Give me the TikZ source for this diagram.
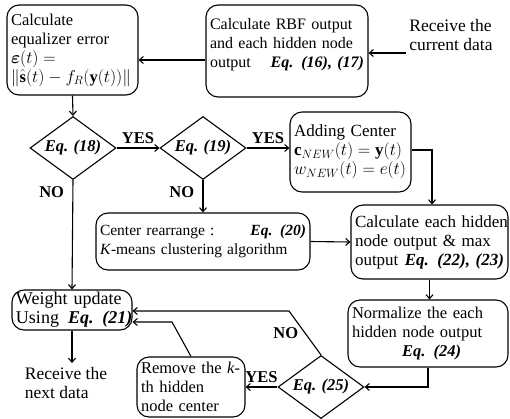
\documentclass[tikz,border=0pt]{standalone}
\usepackage{amsmath}
\usepackage{bm}
\usepackage{fontspec}
\setmainfont{Liberation Serif}
\usepackage{tikz}
\usetikzlibrary{arrows.meta, shapes.geometric, positioning, calc}

\newcommand{\eqn}[1]{\textbf{\textit{Eq. #1}}}
\newcommand{\fs}[1]{\fontsize{#1}{19}\selectfont}

\begin{document}
\begin{tikzpicture}[x=1pt, y=-1pt, line width=1.1pt, font=\fs{16.5},
  box/.style={draw, rounded corners=12pt, align=left, inner xsep=4pt, inner ysep=1pt},
  test/.style={diamond, draw, aspect=1.37, inner sep=0pt, minimum width=86pt, minimum height=63pt},
  arr/.style={-{Straight Barb[length=4pt,width=7pt]}},
  lbl/.style={font=\fontsize{16.5}{18}\selectfont\bfseries}]
  \useasboundingbox (0,0) rectangle (510,418);

  \node[box, text width=123pt, minimum height=90pt] (err) at (72.5,50)
    {\mbox{Calculate}\\ \mbox{equalizer error}\\ $\bm{\varepsilon}(t) =$\\ \mbox{$\|\hat{\mathbf{s}}(t)-f_R(\mathbf{y}(t))\|$}};
  \node[box, font=\fs{16}, text width=154pt, minimum height=92pt] (rbf) at (287,51)
    {\mbox{Calculate RBF output}\\ \mbox{and each hidden node}\\ output\hfill\eqn{(16), (17)}\\[-3pt]\mbox{}};
  \node[align=left, font=\fs{17.5}] (recv) at (451,35) {Receive the\\ current data};

  \node[test] (d18) at (73,148) {\eqn{(18)}};
  \node[test] (d19) at (203,148) {\eqn{(19)}};
  \node[box, font=\fs{17}, text width=113pt, minimum height=80pt] (add) at (350.5,152)
    {\mbox{Adding Center}\\ $\mathbf{c}_{NEW}(t)=\mathbf{y}(t)$\\ $w_{NEW}(t)=e(t)$};

  \node[box, font=\fs{15.5}, text width=206pt, minimum height=57pt] (rearr) at (203,241.5)
    {Center rearrange :\hfill\eqn{(20)}\hspace*{12pt}\\ \mbox{\textit{K}-means clustering algorithm}};
  \node[box, font=\fs{17}, text width=149pt, minimum height=74pt] (calc) at (429.5,242)
    {\mbox{Calculate each hidden}\\ \mbox{node output \& max}\\ output\hfill\eqn{(22), (23)}};
  \node[box, text width=152pt, minimum height=67pt] (norm) at (428,333.5)
    {\mbox{Normalize the each}\\ \mbox{hidden node output}\\ \mbox{\hspace*{50pt}\eqn{(24)}}};

  \node[box, font=\fs{18}, text width=112pt, minimum height=40pt] (wupd) at (72,310)
    {\mbox{Weight update}\\ \mbox{Using \,\eqn{(21)}}};
  \node[align=left, anchor=north, font=\fs{17.5}] (next) at (66,363) {Receive the\\ next data};
  \node[box, text width=100pt, minimum height=60pt] (rm) at (191,387)
    {\mbox{Remove the \textit{k}-}\\ \mbox{th hidden}\\ \mbox{node center}};
  \node[test] (d25) at (321,387) {\eqn{(25)}};

  \coordinate (nobend) at (289,311);
  \coordinate (rmbend) at (172,322);

  \draw[arr] ([yshift=-18pt]recv.west) -- ([yshift=-2pt]rbf.east);
  \draw[arr] ([yshift=-9pt]rbf.west) -- ([yshift=-10pt]err.east);
  \draw[arr] (err.south) -- (d18.north);
  \draw[arr] (d18.east) -- node[lbl, above] {YES} (d19.west);
  \draw[arr] (d19.east) -- node[lbl, above] {YES} (add.west |- d19.east);
  \draw[arr] (d18.south) -- node[lbl, pos=0.11, left=5pt] {NO} (wupd.north);
  \draw[arr] (d19.south) -- node[lbl, pos=0.36, left=5pt] {NO} (rearr.north);
  \draw[arr] ([yshift=2pt]add.east) -| ([xshift=2.5pt]calc.north);
  \draw[arr] (rearr.east) -- (calc.west);
  \draw[arr] (calc.south) -- (calc.south |- norm.north);
  \draw[arr] (norm.south) |- (d25.east);
  \draw[arr] (d25.north) -- node[lbl, midway, left=3pt] {NO} (nobend) -- (wupd.east |- nobend);
  \draw[arr] (d25.west) -- node[lbl, above] {YES} (rm.east);
  \draw[arr] (rm.north) -- (rmbend) -- (wupd.east |- rmbend);
  \draw[arr] (wupd.south) -- (wupd.south |- next.north);
\end{tikzpicture}
\end{document}
